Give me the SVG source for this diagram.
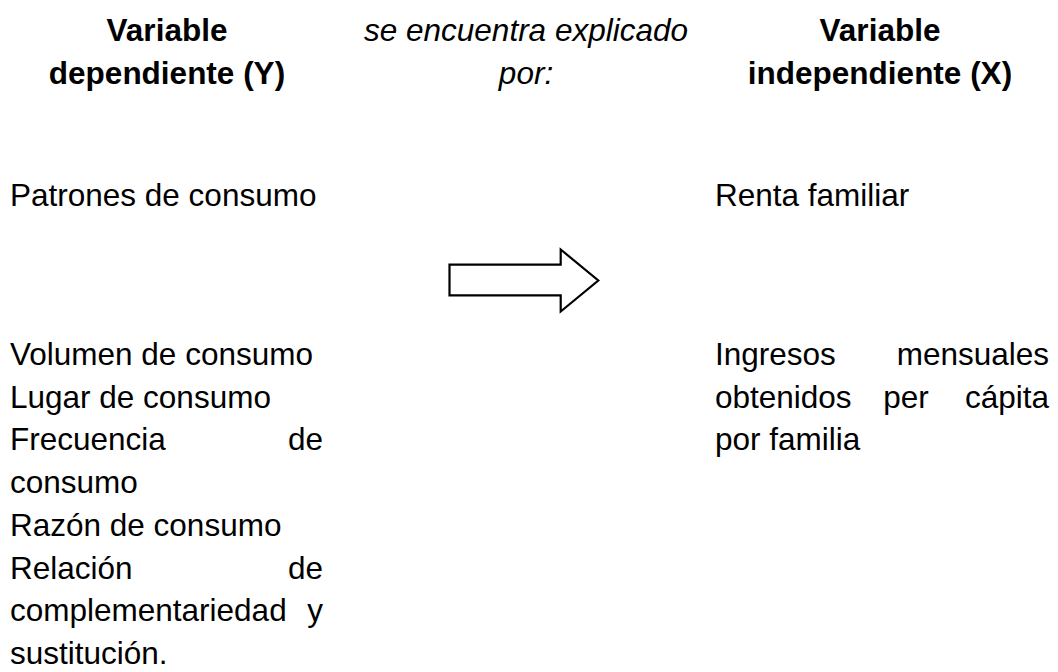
<svg xmlns="http://www.w3.org/2000/svg" width="1058" height="672" viewBox="0 0 1058 672">
<style>
text{font-family:"Liberation Sans",Arial,sans-serif;font-size:31.5px;fill:#000}
.b{font-weight:bold;text-anchor:middle}
.i{font-style:italic;text-anchor:middle}
.e{text-anchor:end}
.m{text-anchor:middle}
.arrow{fill:#fff;stroke:#000;stroke-width:2.2;stroke-linejoin:miter}
</style>
<rect width="1058" height="672" fill="#fff"/>
<g id="header-y">
<text class="b" x="167" y="41">Variable</text>
<text class="b" x="167" y="84">dependiente (Y)</text>
</g>
<g id="header-mid">
<text class="i" x="526" y="41">se encuentra explicado</text>
<text class="i" x="526" y="84">por:</text>
</g>
<g id="header-x">
<text class="b" x="880" y="41">Variable</text>
<text class="b" x="880" y="84">independiente (X)</text>
</g>
<g id="node-y">
<text x="10" y="206">Patrones de consumo</text>
</g>
<g id="node-x">
<text x="715" y="206">Renta familiar</text>
</g>
<g id="connectors">
<polygon class="arrow" points="449.5,264.7 560.7,264.7 560.7,249.5 598.3,280.5 560.7,311.5 560.7,295.3 449.5,295.3"/>
</g>
<g id="indicators-y">
<text x="10" y="365">Volumen de consumo</text>
<text x="10" y="407.7">Lugar de consumo</text>
<text x="10" y="450.4">Frecuencia</text>
<text class="e" x="323" y="450.4">de</text>
<text x="10" y="493.1">consumo</text>
<text x="10" y="535.8">Razón de consumo</text>
<text x="10" y="578.5">Relación</text>
<text class="e" x="323" y="578.5">de</text>
<text x="10" y="621.2">complementariedad</text>
<text class="e" x="323" y="621.2">y</text>
<text x="10" y="663.5">sustitución.</text>
</g>
<g id="indicators-x">
<text x="715" y="365">Ingresos</text>
<text class="e" x="1049" y="365">mensuales</text>
<text x="715" y="407.7">obtenidos</text>
<text class="m" x="906" y="407.7">per</text>
<text class="e" x="1049" y="407.7">cápita</text>
<text x="715" y="450.4">por familia</text>
</g>
</svg>
